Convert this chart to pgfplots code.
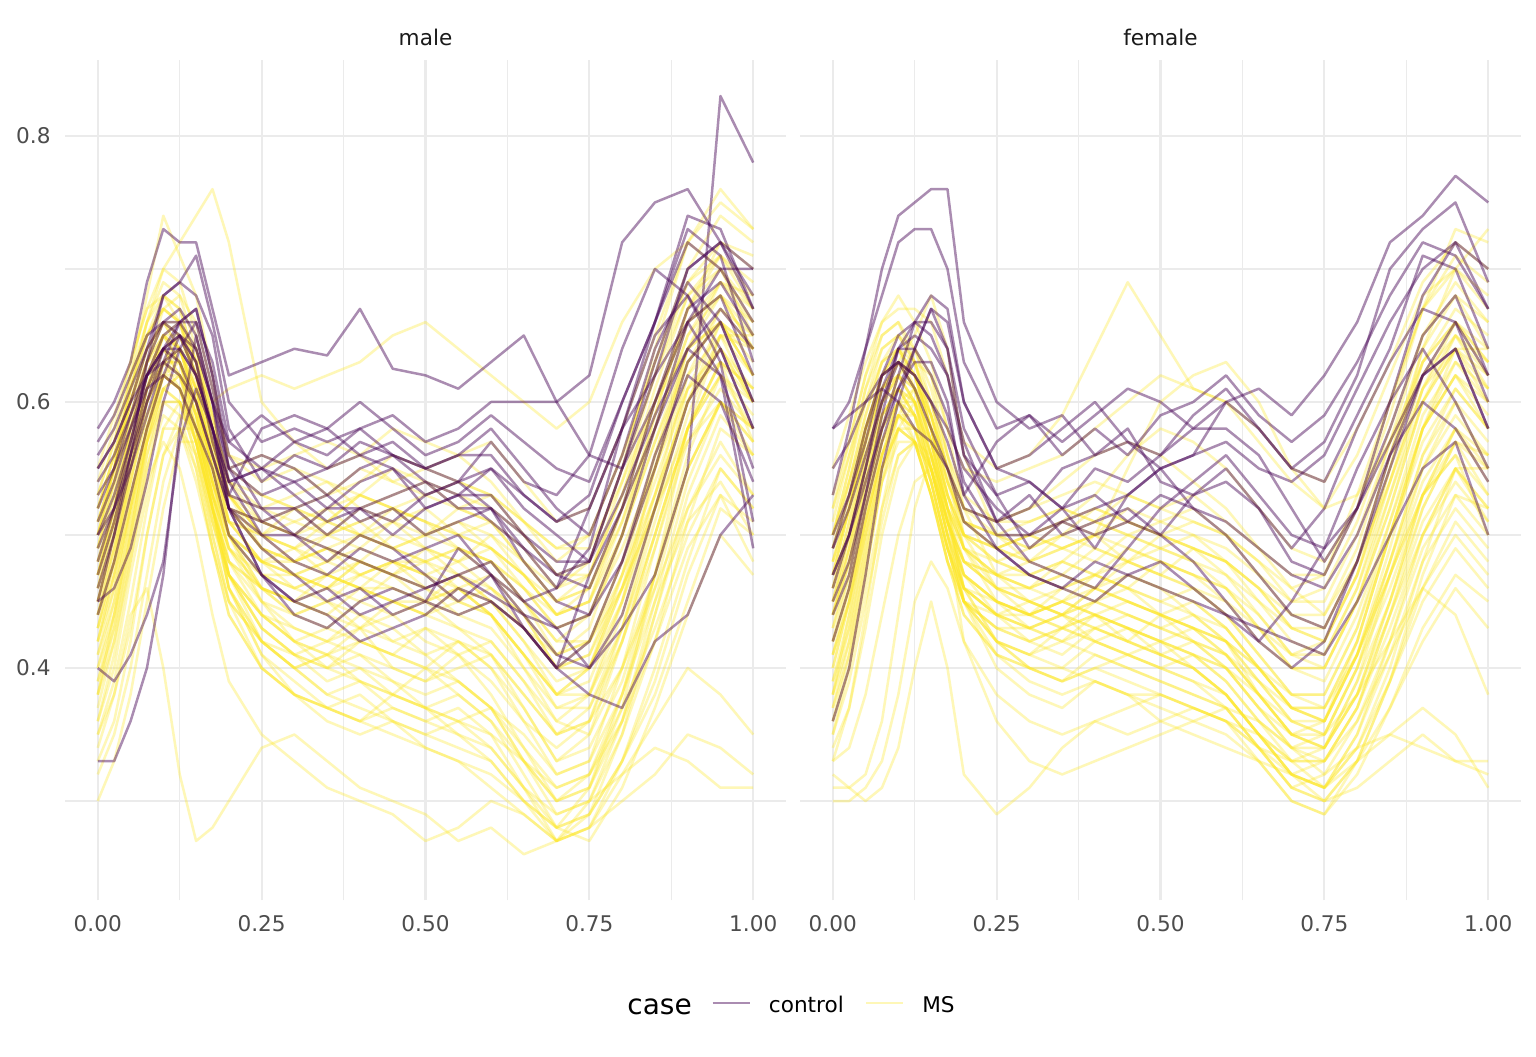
\documentclass[border=0pt]{standalone}
\usepackage{fontspec}
\setmainfont{DejaVu Sans}
\usepackage{pgfplots}
\usepackage{pgfplotstable}
\pgfplotsset{compat=1.18}
\definecolor{ctrl}{HTML}{440154}
\definecolor{msc}{HTML}{FDE725}
\definecolor{gridc}{HTML}{EBEBEB}
\definecolor{ticklab}{HTML}{4D4D4D}
\definecolor{strip}{HTML}{1A1A1A}

% ---------- male, control ----------
\pgfplotstableread[header=has colnames]{
id 0 0.025 0.05 0.075 0.1 0.125 0.15 0.175 0.2 0.25 0.3 0.35 0.4 0.45 0.5 0.55 0.6 0.65 0.7 0.75 0.8 0.85 0.9 0.95 1
c1 0.58 0.60 0.63 0.69 0.73 0.72 0.72 0.67 0.62 0.63 0.64 0.635 0.67 0.625 0.62 0.61 0.63 0.65 0.60 0.56 0.55 0.60 0.66 0.70 0.70
c2 0.45 0.50 0.56 0.63 0.68 0.69 0.71 0.66 0.60 0.57 0.58 0.57 0.58 0.56 0.55 0.56 0.56 0.53 0.51 0.53 0.60 0.66 0.74 0.73 0.67
c3 0.33 0.33 0.36 0.40 0.47 0.58 0.65 0.60 0.52 0.47 0.45 0.46 0.44 0.45 0.46 0.47 0.455 0.44 0.43 0.40 0.43 0.47 0.55 0.83 0.78
c4 0.55 0.57 0.60 0.64 0.68 0.69 0.68 0.65 0.58 0.54 0.56 0.55 0.56 0.55 0.53 0.54 0.55 0.52 0.50 0.48 0.55 0.62 0.70 0.72 0.70
c5 0.50 0.53 0.57 0.62 0.65 0.66 0.67 0.62 0.56 0.52 0.50 0.49 0.48 0.47 0.46 0.47 0.48 0.45 0.43 0.44 0.50 0.58 0.66 0.68 0.62
c6 0.47 0.51 0.56 0.61 0.64 0.65 0.63 0.58 0.52 0.49 0.47 0.45 0.46 0.44 0.45 0.49 0.47 0.44 0.41 0.40 0.44 0.52 0.60 0.64 0.58
c7 0.40 0.39 0.41 0.44 0.48 0.57 0.61 0.58 0.52 0.47 0.44 0.43 0.45 0.46 0.45 0.44 0.45 0.43 0.40 0.38 0.37 0.42 0.44 0.50 0.53
c8 0.56 0.58 0.61 0.64 0.66 0.67 0.65 0.60 0.57 0.59 0.57 0.58 0.60 0.58 0.56 0.57 0.59 0.57 0.55 0.54 0.60 0.66 0.72 0.70 0.66
c9 0.52 0.55 0.59 0.63 0.66 0.66 0.64 0.60 0.55 0.53 0.54 0.52 0.54 0.55 0.52 0.53 0.53 0.50 0.47 0.46 0.52 0.60 0.67 0.69 0.65
c10 0.48 0.52 0.57 0.62 0.64 0.63 0.60 0.56 0.52 0.51 0.52 0.53 0.51 0.52 0.50 0.51 0.52 0.48 0.45 0.44 0.48 0.55 0.63 0.66 0.60
c11 0.45 0.46 0.49 0.54 0.60 0.64 0.66 0.63 0.57 0.55 0.53 0.51 0.52 0.50 0.52 0.53 0.51 0.49 0.47 0.48 0.55 0.63 0.70 0.72 0.68
c12 0.53 0.55 0.58 0.61 0.62 0.61 0.58 0.55 0.50 0.47 0.45 0.44 0.42 0.43 0.44 0.46 0.45 0.43 0.40 0.47 0.52 0.58 0.64 0.62 0.55
c13 0.49 0.52 0.56 0.60 0.63 0.64 0.62 0.58 0.54 0.55 0.54 0.55 0.57 0.56 0.55 0.56 0.58 0.55 0.52 0.50 0.56 0.64 0.69 0.66 0.60
c14 0.44 0.48 0.53 0.58 0.62 0.65 0.64 0.60 0.54 0.50 0.48 0.47 0.49 0.48 0.49 0.50 0.47 0.43 0.40 0.42 0.48 0.56 0.62 0.60 0.54
c15 0.57 0.59 0.62 0.65 0.66 0.65 0.62 0.58 0.53 0.52 0.52 0.50 0.52 0.53 0.54 0.53 0.55 0.53 0.51 0.52 0.58 0.65 0.68 0.63 0.51
c16 0.51 0.54 0.58 0.62 0.64 0.65 0.63 0.57 0.53 0.58 0.59 0.58 0.56 0.57 0.55 0.54 0.57 0.54 0.53 0.56 0.64 0.70 0.68 0.64 0.58
c17 0.46 0.50 0.55 0.60 0.64 0.66 0.66 0.61 0.55 0.51 0.50 0.48 0.50 0.49 0.47 0.45 0.47 0.45 0.46 0.52 0.58 0.62 0.66 0.62 0.49
c18 0.55 0.57 0.60 0.62 0.63 0.62 0.60 0.56 0.52 0.50 0.50 0.52 0.52 0.51 0.53 0.54 0.52 0.50 0.48 0.48 0.53 0.59 0.64 0.67 0.64
c19 0.50 0.52 0.55 0.59 0.63 0.66 0.67 0.62 0.55 0.56 0.55 0.53 0.55 0.56 0.54 0.52 0.52 0.49 0.46 0.49 0.58 0.66 0.73 0.71 0.63
c20 0.54 0.56 0.59 0.62 0.64 0.64 0.62 0.58 0.54 0.55 0.57 0.56 0.58 0.59 0.57 0.58 0.60 0.60 0.60 0.62 0.72 0.75 0.76 0.72 0.67
}\maleCraw
\pgfplotstabletranspose[colnames from=id]{\maleC}{\maleCraw}

% ---------- male, MS ----------
\pgfplotstableread[header=has colnames]{
id 0 0.025 0.05 0.075 0.1 0.125 0.15 0.175 0.2 0.25 0.3 0.35 0.4 0.45 0.5 0.55 0.6 0.65 0.7 0.75 0.8 0.85 0.9 0.95 1
m1 0.45 0.50 0.56 0.61 0.64 0.62 0.57 0.52 0.48 0.46 0.45 0.47 0.46 0.45 0.44 0.46 0.44 0.40 0.36 0.38 0.45 0.55 0.62 0.65 0.60
m2 0.42 0.47 0.53 0.58 0.62 0.61 0.58 0.53 0.49 0.45 0.43 0.42 0.44 0.43 0.41 0.42 0.40 0.37 0.33 0.35 0.42 0.50 0.58 0.62 0.58
m3 0.50 0.55 0.60 0.64 0.66 0.64 0.60 0.55 0.51 0.50 0.52 0.50 0.51 0.52 0.50 0.51 0.49 0.47 0.45 0.47 0.53 0.60 0.66 0.68 0.64
m4 0.38 0.44 0.51 0.57 0.61 0.60 0.56 0.50 0.45 0.42 0.40 0.41 0.39 0.38 0.40 0.39 0.37 0.33 0.30 0.31 0.36 0.44 0.52 0.57 0.53
m5 0.47 0.52 0.58 0.62 0.65 0.64 0.61 0.56 0.52 0.49 0.48 0.50 0.49 0.51 0.49 0.48 0.50 0.47 0.44 0.45 0.52 0.60 0.67 0.70 0.66
m6 0.55 0.59 0.63 0.67 0.68 0.66 0.61 0.56 0.53 0.52 0.53 0.54 0.52 0.53 0.54 0.52 0.53 0.51 0.49 0.50 0.56 0.63 0.69 0.72 0.70
m7 0.33 0.36 0.42 0.50 0.56 0.58 0.56 0.50 0.45 0.40 0.38 0.37 0.36 0.38 0.37 0.35 0.33 0.30 0.28 0.29 0.33 0.38 0.45 0.52 0.50
m8 0.44 0.49 0.55 0.60 0.63 0.63 0.60 0.55 0.50 0.47 0.46 0.45 0.47 0.46 0.45 0.47 0.46 0.43 0.40 0.41 0.47 0.54 0.61 0.63 0.57
m9 0.48 0.53 0.59 0.63 0.66 0.65 0.62 0.57 0.52 0.50 0.49 0.48 0.50 0.49 0.48 0.49 0.47 0.45 0.42 0.44 0.50 0.57 0.64 0.66 0.62
m10 0.40 0.45 0.52 0.58 0.62 0.61 0.57 0.51 0.47 0.44 0.42 0.41 0.43 0.40 0.39 0.41 0.38 0.34 0.30 0.32 0.38 0.46 0.55 0.60 0.57
m11 0.52 0.56 0.61 0.66 0.70 0.72 0.74 0.76 0.72 0.60 0.57 0.55 0.56 0.54 0.55 0.56 0.54 0.51 0.48 0.50 0.56 0.63 0.70 0.74 0.72
m12 0.46 0.51 0.57 0.62 0.65 0.63 0.59 0.53 0.49 0.47 0.47 0.46 0.45 0.47 0.46 0.44 0.45 0.42 0.38 0.40 0.46 0.53 0.60 0.64 0.61
m13 0.36 0.41 0.48 0.55 0.60 0.60 0.57 0.51 0.46 0.42 0.40 0.38 0.39 0.37 0.36 0.37 0.35 0.31 0.27 0.28 0.33 0.40 0.48 0.55 0.52
m14 0.43 0.48 0.54 0.59 0.62 0.62 0.60 0.56 0.51 0.48 0.47 0.48 0.47 0.48 0.46 0.45 0.46 0.44 0.40 0.42 0.48 0.56 0.63 0.67 0.64
m15 0.50 0.54 0.59 0.63 0.65 0.64 0.61 0.56 0.52 0.51 0.50 0.51 0.53 0.52 0.51 0.50 0.51 0.49 0.46 0.47 0.54 0.62 0.68 0.70 0.67
m16 0.34 0.38 0.44 0.46 0.40 0.32 0.27 0.28 0.30 0.34 0.35 0.33 0.31 0.30 0.29 0.27 0.28 0.26 0.27 0.30 0.32 0.34 0.33 0.31 0.31
m17 0.47 0.51 0.56 0.61 0.64 0.63 0.59 0.54 0.50 0.46 0.44 0.43 0.45 0.44 0.42 0.41 0.42 0.39 0.35 0.36 0.42 0.50 0.58 0.63 0.60
m18 0.53 0.57 0.62 0.66 0.68 0.67 0.63 0.58 0.54 0.53 0.52 0.53 0.55 0.54 0.53 0.52 0.51 0.48 0.45 0.46 0.52 0.58 0.65 0.68 0.66
m19 0.41 0.46 0.52 0.58 0.62 0.61 0.58 0.52 0.47 0.43 0.41 0.40 0.42 0.41 0.40 0.38 0.36 0.32 0.28 0.27 0.31 0.37 0.44 0.50 0.47
m20 0.45 0.50 0.56 0.60 0.63 0.62 0.58 0.53 0.49 0.46 0.45 0.44 0.46 0.45 0.44 0.45 0.44 0.41 0.38 0.40 0.47 0.56 0.64 0.68 0.65
m21 0.49 0.53 0.58 0.62 0.64 0.63 0.59 0.54 0.50 0.48 0.47 0.48 0.49 0.48 0.47 0.48 0.49 0.46 0.43 0.44 0.49 0.55 0.61 0.64 0.60
m22 0.35 0.38 0.43 0.50 0.56 0.59 0.58 0.53 0.47 0.43 0.41 0.39 0.40 0.39 0.37 0.36 0.34 0.31 0.29 0.30 0.35 0.42 0.51 0.58 0.56
m23 0.51 0.55 0.60 0.64 0.66 0.64 0.60 0.55 0.52 0.51 0.50 0.52 0.50 0.51 0.52 0.50 0.49 0.47 0.44 0.45 0.50 0.57 0.63 0.66 0.62
m24 0.44 0.49 0.54 0.59 0.62 0.61 0.57 0.52 0.48 0.45 0.44 0.45 0.43 0.44 0.45 0.43 0.41 0.37 0.33 0.34 0.39 0.47 0.55 0.60 0.58
m25 0.48 0.52 0.57 0.61 0.63 0.62 0.59 0.54 0.50 0.48 0.49 0.47 0.48 0.50 0.49 0.47 0.48 0.45 0.41 0.42 0.46 0.52 0.58 0.62 0.59
m26 0.39 0.43 0.49 0.55 0.59 0.58 0.54 0.49 0.44 0.40 0.38 0.37 0.36 0.35 0.34 0.33 0.31 0.29 0.27 0.28 0.32 0.36 0.40 0.38 0.35
m27 0.54 0.58 0.63 0.67 0.70 0.69 0.65 0.60 0.56 0.55 0.56 0.57 0.56 0.58 0.57 0.56 0.57 0.54 0.51 0.52 0.58 0.65 0.72 0.75 0.73
m28 0.42 0.47 0.53 0.58 0.61 0.60 0.56 0.51 0.47 0.44 0.42 0.43 0.42 0.41 0.43 0.42 0.40 0.36 0.32 0.33 0.40 0.49 0.58 0.63 0.61
m29 0.46 0.51 0.57 0.61 0.63 0.61 0.57 0.52 0.48 0.46 0.45 0.46 0.48 0.47 0.46 0.47 0.45 0.43 0.41 0.42 0.48 0.55 0.63 0.66 0.63
m30 0.37 0.42 0.49 0.56 0.61 0.62 0.59 0.52 0.46 0.41 0.39 0.37 0.38 0.36 0.35 0.34 0.33 0.30 0.27 0.29 0.35 0.44 0.53 0.59 0.56
m31 0.50 0.55 0.61 0.65 0.67 0.66 0.62 0.57 0.53 0.50 0.49 0.50 0.51 0.49 0.50 0.51 0.50 0.48 0.46 0.48 0.55 0.62 0.69 0.71 0.67
m32 0.43 0.47 0.52 0.57 0.60 0.60 0.57 0.52 0.47 0.44 0.43 0.42 0.41 0.40 0.39 0.40 0.41 0.38 0.35 0.36 0.40 0.46 0.52 0.56 0.53
m33 0.47 0.52 0.58 0.63 0.66 0.66 0.63 0.58 0.53 0.50 0.48 0.49 0.47 0.48 0.47 0.46 0.47 0.44 0.40 0.40 0.45 0.52 0.60 0.66 0.64
m34 0.32 0.35 0.40 0.47 0.54 0.58 0.58 0.54 0.48 0.44 0.42 0.41 0.42 0.41 0.40 0.42 0.41 0.38 0.35 0.37 0.43 0.51 0.59 0.65 0.62
m35 0.52 0.56 0.60 0.63 0.64 0.62 0.58 0.53 0.50 0.48 0.48 0.47 0.46 0.48 0.48 0.46 0.45 0.43 0.40 0.41 0.46 0.52 0.57 0.60 0.57
m36 0.45 0.50 0.56 0.61 0.65 0.66 0.64 0.58 0.53 0.50 0.49 0.51 0.50 0.49 0.50 0.49 0.48 0.45 0.42 0.42 0.47 0.53 0.60 0.65 0.65
m37 0.40 0.44 0.50 0.56 0.60 0.59 0.55 0.49 0.45 0.42 0.41 0.42 0.43 0.42 0.41 0.39 0.37 0.34 0.31 0.32 0.37 0.43 0.50 0.55 0.52
m38 0.49 0.54 0.60 0.65 0.68 0.67 0.63 0.57 0.52 0.49 0.48 0.49 0.48 0.47 0.49 0.48 0.46 0.44 0.41 0.43 0.50 0.58 0.66 0.69 0.66
m39 0.36 0.40 0.47 0.53 0.58 0.58 0.55 0.49 0.44 0.40 0.38 0.37 0.36 0.37 0.36 0.35 0.34 0.31 0.28 0.31 0.38 0.47 0.56 0.62 0.60
m40 0.44 0.48 0.54 0.60 0.64 0.65 0.62 0.56 0.51 0.48 0.46 0.47 0.46 0.45 0.45 0.46 0.44 0.41 0.37 0.38 0.44 0.52 0.61 0.66 0.64
m41 0.38 0.42 0.48 0.54 0.57 0.55 0.50 0.44 0.39 0.35 0.33 0.31 0.30 0.29 0.27 0.28 0.30 0.29 0.27 0.28 0.30 0.32 0.35 0.34 0.32
m42 0.47 0.52 0.58 0.63 0.67 0.68 0.66 0.61 0.56 0.54 0.55 0.54 0.53 0.55 0.54 0.53 0.52 0.50 0.47 0.48 0.55 0.64 0.72 0.76 0.73
m43 0.50 0.55 0.62 0.68 0.74 0.71 0.68 0.62 0.55 0.53 0.52 0.51 0.53 0.52 0.51 0.50 0.49 0.47 0.44 0.46 0.52 0.60 0.66 0.68 0.64
m44 0.51 0.55 0.60 0.64 0.66 0.65 0.62 0.60 0.61 0.62 0.61 0.62 0.63 0.65 0.66 0.64 0.62 0.60 0.58 0.60 0.66 0.70 0.72 0.70 0.65
m45 0.41 0.45 0.51 0.57 0.61 0.62 0.60 0.55 0.50 0.46 0.44 0.45 0.44 0.42 0.43 0.41 0.39 0.36 0.34 0.36 0.43 0.52 0.60 0.64 0.60
m46 0.53 0.57 0.62 0.65 0.67 0.66 0.63 0.58 0.55 0.56 0.55 0.53 0.54 0.56 0.55 0.54 0.53 0.50 0.47 0.47 0.53 0.61 0.68 0.71 0.68
m47 0.46 0.50 0.55 0.60 0.63 0.64 0.61 0.55 0.50 0.45 0.42 0.40 0.41 0.39 0.38 0.39 0.37 0.33 0.29 0.30 0.36 0.45 0.54 0.60 0.58
m48 0.39 0.44 0.50 0.57 0.62 0.63 0.61 0.56 0.51 0.48 0.47 0.46 0.48 0.47 0.45 0.46 0.44 0.41 0.38 0.39 0.45 0.53 0.62 0.67 0.65
m49 0.49 0.54 0.59 0.63 0.65 0.63 0.58 0.52 0.47 0.43 0.41 0.40 0.39 0.38 0.37 0.36 0.37 0.35 0.32 0.33 0.38 0.45 0.51 0.54 0.50
m50 0.44 0.48 0.53 0.58 0.62 0.64 0.63 0.59 0.54 0.52 0.51 0.50 0.52 0.51 0.50 0.52 0.51 0.48 0.45 0.46 0.51 0.58 0.65 0.69 0.67
m51 0.35 0.39 0.45 0.52 0.58 0.60 0.58 0.52 0.46 0.41 0.38 0.36 0.35 0.36 0.34 0.33 0.32 0.30 0.28 0.29 0.33 0.39 0.47 0.53 0.51
m52 0.51 0.55 0.61 0.66 0.69 0.68 0.64 0.59 0.54 0.51 0.52 0.51 0.50 0.52 0.51 0.49 0.48 0.46 0.43 0.44 0.50 0.59 0.67 0.71 0.69
m53 0.43 0.48 0.55 0.61 0.65 0.64 0.60 0.54 0.49 0.46 0.45 0.44 0.43 0.45 0.44 0.43 0.42 0.39 0.36 0.35 0.40 0.47 0.55 0.60 0.56
m54 0.47 0.51 0.56 0.60 0.62 0.61 0.58 0.54 0.51 0.50 0.51 0.52 0.53 0.52 0.53 0.54 0.53 0.51 0.49 0.49 0.54 0.60 0.64 0.66 0.62
m55 0.38 0.43 0.50 0.57 0.63 0.64 0.60 0.53 0.47 0.42 0.40 0.41 0.40 0.38 0.37 0.38 0.36 0.33 0.30 0.31 0.37 0.47 0.58 0.65 0.64
m56 0.48 0.52 0.57 0.62 0.65 0.65 0.62 0.57 0.52 0.49 0.47 0.46 0.47 0.48 0.47 0.45 0.44 0.41 0.38 0.38 0.43 0.50 0.58 0.63 0.61
m57 0.42 0.46 0.52 0.58 0.63 0.65 0.64 0.59 0.53 0.49 0.48 0.49 0.48 0.47 0.48 0.47 0.45 0.42 0.39 0.40 0.46 0.55 0.64 0.69 0.68
m58 0.30 0.33 0.38 0.45 0.52 0.57 0.57 0.52 0.46 0.42 0.40 0.38 0.37 0.36 0.35 0.36 0.35 0.33 0.31 0.32 0.36 0.42 0.49 0.53 0.48
m59 0.52 0.56 0.61 0.65 0.67 0.66 0.62 0.57 0.53 0.51 0.50 0.49 0.50 0.49 0.48 0.49 0.48 0.46 0.44 0.45 0.51 0.59 0.67 0.72 0.71
m60 0.45 0.49 0.55 0.60 0.63 0.63 0.60 0.55 0.50 0.47 0.46 0.47 0.46 0.46 0.45 0.44 0.43 0.40 0.37 0.37 0.42 0.49 0.57 0.61 0.58
}\maleMraw
\pgfplotstabletranspose[colnames from=id]{\maleM}{\maleMraw}

% ---------- female, control ----------
\pgfplotstableread[header=has colnames]{
id 0 0.025 0.05 0.075 0.1 0.125 0.15 0.175 0.2 0.25 0.3 0.35 0.4 0.45 0.5 0.55 0.6 0.65 0.7 0.75 0.8 0.85 0.9 0.95 1
g1 0.58 0.60 0.64 0.68 0.72 0.73 0.73 0.70 0.63 0.58 0.59 0.57 0.59 0.61 0.60 0.58 0.60 0.61 0.59 0.62 0.66 0.72 0.74 0.77 0.75
g2 0.53 0.58 0.64 0.70 0.74 0.75 0.76 0.76 0.66 0.60 0.58 0.59 0.56 0.57 0.55 0.56 0.60 0.58 0.55 0.57 0.62 0.70 0.73 0.75 0.69
g3 0.47 0.50 0.55 0.60 0.63 0.62 0.60 0.58 0.55 0.52 0.50 0.51 0.52 0.53 0.55 0.56 0.57 0.55 0.54 0.56 0.61 0.66 0.70 0.72 0.67
g4 0.36 0.40 0.47 0.55 0.60 0.64 0.67 0.66 0.60 0.55 0.54 0.52 0.53 0.51 0.53 0.52 0.50 0.47 0.44 0.43 0.48 0.55 0.62 0.66 0.60
g5 0.49 0.52 0.56 0.60 0.64 0.65 0.64 0.62 0.57 0.51 0.48 0.47 0.46 0.49 0.52 0.54 0.56 0.53 0.50 0.49 0.52 0.57 0.62 0.64 0.58
g6 0.45 0.48 0.53 0.58 0.62 0.66 0.68 0.67 0.60 0.55 0.56 0.58 0.60 0.57 0.56 0.59 0.61 0.58 0.55 0.54 0.59 0.64 0.71 0.70 0.64
g7 0.58 0.59 0.60 0.61 0.60 0.58 0.57 0.55 0.51 0.49 0.47 0.46 0.45 0.47 0.48 0.46 0.44 0.43 0.42 0.41 0.45 0.50 0.55 0.57 0.50
g8 0.44 0.47 0.53 0.59 0.64 0.66 0.66 0.64 0.58 0.53 0.49 0.51 0.50 0.51 0.50 0.48 0.45 0.42 0.40 0.42 0.48 0.56 0.62 0.64 0.58
g9 0.50 0.53 0.57 0.62 0.65 0.66 0.65 0.62 0.56 0.53 0.54 0.52 0.55 0.54 0.56 0.58 0.58 0.56 0.52 0.48 0.52 0.58 0.65 0.68 0.62
g10 0.46 0.50 0.55 0.61 0.64 0.64 0.62 0.59 0.54 0.50 0.50 0.52 0.49 0.53 0.55 0.52 0.51 0.49 0.47 0.46 0.50 0.56 0.60 0.58 0.54
g11 0.42 0.46 0.52 0.57 0.61 0.64 0.67 0.64 0.56 0.51 0.52 0.55 0.56 0.58 0.54 0.53 0.55 0.52 0.49 0.52 0.58 0.63 0.67 0.66 0.62
g12 0.55 0.57 0.60 0.62 0.63 0.62 0.60 0.57 0.53 0.57 0.59 0.56 0.58 0.56 0.59 0.60 0.62 0.59 0.57 0.59 0.63 0.68 0.72 0.71 0.67
g13 0.47 0.50 0.54 0.58 0.61 0.63 0.63 0.60 0.53 0.49 0.47 0.46 0.48 0.47 0.46 0.45 0.44 0.42 0.45 0.49 0.55 0.60 0.64 0.60 0.55
g14 0.49 0.53 0.58 0.62 0.63 0.61 0.58 0.55 0.52 0.51 0.53 0.50 0.51 0.52 0.50 0.53 0.54 0.52 0.48 0.47 0.52 0.60 0.68 0.72 0.70
}\femCraw
\pgfplotstabletranspose[colnames from=id]{\femC}{\femCraw}

% ---------- female, MS ----------
\pgfplotstableread[header=has colnames]{
id 0 0.025 0.05 0.075 0.1 0.125 0.15 0.175 0.2 0.25 0.3 0.35 0.4 0.45 0.5 0.55 0.6 0.65 0.7 0.75 0.8 0.85 0.9 0.95 1
f1 0.42 0.47 0.53 0.58 0.60 0.57 0.53 0.49 0.46 0.45 0.44 0.46 0.45 0.47 0.46 0.44 0.42 0.39 0.36 0.35 0.40 0.48 0.56 0.60 0.55
f2 0.38 0.44 0.51 0.57 0.60 0.58 0.54 0.49 0.45 0.42 0.41 0.43 0.42 0.41 0.42 0.40 0.38 0.35 0.33 0.34 0.38 0.45 0.53 0.58 0.56
f3 0.46 0.51 0.57 0.62 0.64 0.61 0.56 0.51 0.48 0.47 0.48 0.47 0.49 0.48 0.47 0.49 0.47 0.44 0.41 0.40 0.45 0.53 0.61 0.65 0.62
f4 0.31 0.31 0.32 0.36 0.44 0.52 0.56 0.52 0.45 0.40 0.38 0.37 0.39 0.38 0.36 0.37 0.36 0.34 0.31 0.30 0.33 0.37 0.42 0.46 0.43
f5 0.50 0.55 0.61 0.65 0.66 0.63 0.58 0.53 0.50 0.49 0.50 0.51 0.50 0.52 0.51 0.50 0.49 0.47 0.45 0.46 0.51 0.58 0.65 0.68 0.64
f6 0.44 0.49 0.55 0.60 0.62 0.60 0.55 0.50 0.46 0.44 0.42 0.43 0.44 0.43 0.41 0.42 0.40 0.37 0.35 0.36 0.42 0.50 0.57 0.61 0.58
f7 0.35 0.40 0.47 0.54 0.58 0.58 0.55 0.50 0.45 0.42 0.40 0.39 0.41 0.40 0.39 0.38 0.37 0.34 0.31 0.32 0.36 0.42 0.49 0.53 0.50
f8 0.48 0.53 0.58 0.62 0.63 0.61 0.57 0.53 0.50 0.49 0.50 0.49 0.48 0.50 0.49 0.48 0.46 0.44 0.41 0.42 0.47 0.54 0.61 0.64 0.60
f9 0.40 0.45 0.52 0.58 0.62 0.63 0.62 0.58 0.52 0.47 0.45 0.44 0.46 0.45 0.44 0.43 0.41 0.38 0.35 0.34 0.38 0.44 0.50 0.55 0.51
f10 0.52 0.57 0.62 0.66 0.68 0.66 0.63 0.58 0.55 0.54 0.55 0.56 0.58 0.60 0.62 0.61 0.60 0.58 0.55 0.54 0.58 0.63 0.69 0.72 0.70
f11 0.30 0.30 0.31 0.33 0.38 0.45 0.48 0.46 0.42 0.38 0.36 0.35 0.36 0.35 0.36 0.35 0.34 0.33 0.32 0.30 0.31 0.33 0.35 0.33 0.32
f12 0.45 0.50 0.56 0.61 0.63 0.61 0.57 0.52 0.48 0.46 0.45 0.44 0.45 0.46 0.44 0.43 0.42 0.40 0.37 0.36 0.41 0.48 0.55 0.59 0.56
f13 0.43 0.48 0.54 0.59 0.61 0.59 0.54 0.49 0.46 0.44 0.43 0.44 0.43 0.42 0.44 0.43 0.41 0.38 0.35 0.35 0.40 0.46 0.53 0.57 0.53
f14 0.47 0.52 0.58 0.62 0.64 0.63 0.60 0.55 0.51 0.49 0.48 0.50 0.49 0.48 0.50 0.49 0.48 0.46 0.43 0.43 0.48 0.56 0.63 0.66 0.63
f15 0.36 0.41 0.48 0.55 0.59 0.59 0.57 0.52 0.47 0.44 0.43 0.42 0.44 0.42 0.41 0.40 0.38 0.35 0.32 0.31 0.35 0.41 0.48 0.52 0.49
f16 0.50 0.55 0.60 0.64 0.65 0.63 0.59 0.54 0.51 0.50 0.49 0.50 0.52 0.51 0.50 0.51 0.50 0.48 0.45 0.45 0.50 0.57 0.63 0.66 0.62
f17 0.41 0.46 0.52 0.57 0.59 0.57 0.53 0.48 0.45 0.43 0.43 0.44 0.42 0.43 0.42 0.41 0.39 0.36 0.34 0.35 0.40 0.47 0.54 0.58 0.54
f18 0.33 0.34 0.38 0.44 0.50 0.54 0.55 0.50 0.42 0.36 0.33 0.32 0.33 0.34 0.35 0.36 0.37 0.36 0.34 0.32 0.34 0.35 0.34 0.33 0.33
f19 0.47 0.52 0.57 0.61 0.62 0.60 0.55 0.51 0.48 0.47 0.46 0.48 0.50 0.55 0.60 0.62 0.63 0.60 0.55 0.52 0.53 0.57 0.62 0.65 0.61
f20 0.55 0.59 0.63 0.66 0.67 0.67 0.66 0.62 0.57 0.55 0.56 0.59 0.64 0.69 0.65 0.61 0.60 0.57 0.54 0.52 0.56 0.62 0.68 0.70 0.68
f21 0.44 0.49 0.55 0.60 0.62 0.61 0.57 0.52 0.49 0.47 0.46 0.47 0.46 0.48 0.47 0.46 0.44 0.41 0.38 0.38 0.43 0.50 0.58 0.62 0.59
f22 0.38 0.42 0.48 0.54 0.57 0.57 0.54 0.49 0.45 0.42 0.41 0.40 0.42 0.41 0.40 0.41 0.39 0.36 0.33 0.33 0.37 0.43 0.50 0.54 0.51
f23 0.49 0.54 0.59 0.63 0.64 0.62 0.58 0.53 0.50 0.48 0.47 0.48 0.47 0.49 0.48 0.47 0.45 0.42 0.40 0.40 0.45 0.52 0.60 0.64 0.61
f24 0.32 0.31 0.30 0.31 0.34 0.40 0.45 0.40 0.32 0.29 0.31 0.34 0.36 0.37 0.38 0.37 0.36 0.35 0.33 0.31 0.33 0.35 0.37 0.35 0.31
f25 0.46 0.51 0.56 0.60 0.61 0.59 0.55 0.51 0.48 0.46 0.46 0.45 0.47 0.46 0.45 0.44 0.43 0.40 0.37 0.37 0.42 0.50 0.58 0.63 0.60
f26 0.41 0.45 0.51 0.56 0.59 0.58 0.55 0.50 0.46 0.44 0.44 0.45 0.44 0.43 0.42 0.43 0.42 0.38 0.35 0.34 0.39 0.45 0.52 0.57 0.55
f27 0.53 0.57 0.62 0.65 0.66 0.64 0.60 0.56 0.53 0.51 0.51 0.52 0.51 0.53 0.52 0.51 0.50 0.48 0.46 0.47 0.53 0.60 0.67 0.70 0.67
f28 0.37 0.42 0.49 0.55 0.58 0.57 0.53 0.48 0.44 0.41 0.40 0.39 0.40 0.39 0.38 0.37 0.36 0.33 0.30 0.29 0.33 0.39 0.46 0.51 0.48
f29 0.45 0.50 0.55 0.59 0.61 0.60 0.56 0.52 0.49 0.47 0.47 0.48 0.47 0.46 0.48 0.47 0.46 0.43 0.41 0.41 0.46 0.54 0.62 0.66 0.64
f30 0.48 0.52 0.57 0.61 0.63 0.62 0.59 0.54 0.50 0.48 0.47 0.46 0.47 0.48 0.47 0.46 0.45 0.43 0.40 0.39 0.44 0.51 0.58 0.62 0.58
f31 0.34 0.37 0.43 0.50 0.55 0.57 0.56 0.51 0.46 0.42 0.40 0.39 0.40 0.41 0.40 0.39 0.38 0.35 0.32 0.31 0.34 0.39 0.45 0.49 0.46
f32 0.50 0.54 0.58 0.61 0.62 0.60 0.56 0.52 0.50 0.49 0.50 0.49 0.50 0.51 0.50 0.49 0.48 0.46 0.44 0.44 0.49 0.57 0.65 0.69 0.66
f33 0.43 0.47 0.53 0.58 0.60 0.59 0.55 0.51 0.47 0.45 0.44 0.45 0.44 0.45 0.44 0.42 0.40 0.37 0.34 0.34 0.39 0.47 0.55 0.60 0.57
f34 0.47 0.50 0.55 0.60 0.63 0.65 0.68 0.64 0.56 0.50 0.48 0.49 0.50 0.48 0.49 0.50 0.48 0.45 0.42 0.41 0.46 0.53 0.60 0.64 0.62
f35 0.39 0.44 0.50 0.56 0.59 0.58 0.54 0.49 0.45 0.43 0.42 0.41 0.43 0.42 0.41 0.40 0.38 0.35 0.32 0.33 0.37 0.44 0.51 0.55 0.52
f36 0.51 0.56 0.61 0.64 0.65 0.63 0.59 0.55 0.52 0.51 0.52 0.53 0.54 0.53 0.52 0.53 0.51 0.49 0.47 0.47 0.52 0.59 0.67 0.73 0.72
f37 0.44 0.48 0.54 0.59 0.61 0.59 0.55 0.50 0.47 0.45 0.44 0.45 0.44 0.43 0.42 0.41 0.40 0.38 0.36 0.35 0.38 0.42 0.46 0.44 0.38
f38 0.36 0.40 0.46 0.52 0.56 0.57 0.55 0.51 0.47 0.45 0.44 0.43 0.45 0.44 0.43 0.44 0.42 0.39 0.36 0.36 0.41 0.48 0.56 0.61 0.58
f39 0.49 0.53 0.58 0.62 0.63 0.61 0.58 0.54 0.51 0.50 0.49 0.51 0.53 0.56 0.58 0.57 0.55 0.52 0.49 0.48 0.52 0.60 0.67 0.71 0.69
f40 0.42 0.46 0.52 0.57 0.60 0.59 0.56 0.51 0.48 0.46 0.45 0.44 0.46 0.45 0.44 0.45 0.43 0.40 0.37 0.36 0.41 0.47 0.53 0.56 0.53
f41 0.40 0.45 0.51 0.56 0.59 0.58 0.54 0.49 0.45 0.43 0.42 0.43 0.42 0.41 0.40 0.39 0.37 0.34 0.32 0.31 0.35 0.42 0.50 0.55 0.52
f42 0.47 0.52 0.58 0.62 0.64 0.62 0.58 0.53 0.49 0.48 0.49 0.50 0.51 0.50 0.49 0.48 0.47 0.45 0.43 0.42 0.47 0.55 0.63 0.67 0.65
f43 0.33 0.37 0.44 0.52 0.58 0.60 0.58 0.52 0.46 0.42 0.41 0.42 0.41 0.40 0.39 0.38 0.37 0.34 0.31 0.30 0.33 0.39 0.47 0.53 0.52
f44 0.52 0.56 0.60 0.63 0.64 0.62 0.58 0.54 0.51 0.50 0.51 0.52 0.51 0.50 0.51 0.52 0.50 0.47 0.44 0.43 0.48 0.56 0.64 0.68 0.66
f45 0.44 0.48 0.53 0.58 0.62 0.64 0.62 0.56 0.50 0.46 0.44 0.43 0.44 0.43 0.42 0.41 0.40 0.37 0.34 0.33 0.37 0.44 0.52 0.57 0.56
f46 0.38 0.43 0.50 0.56 0.60 0.60 0.57 0.51 0.46 0.44 0.45 0.46 0.47 0.46 0.45 0.46 0.44 0.41 0.38 0.37 0.42 0.50 0.58 0.62 0.60
f47 0.49 0.53 0.58 0.62 0.63 0.62 0.58 0.53 0.49 0.46 0.45 0.44 0.43 0.44 0.43 0.42 0.41 0.38 0.35 0.34 0.38 0.45 0.53 0.58 0.55
f48 0.42 0.46 0.51 0.56 0.60 0.61 0.59 0.55 0.51 0.49 0.48 0.49 0.50 0.49 0.48 0.47 0.46 0.43 0.40 0.40 0.45 0.52 0.60 0.65 0.63
f49 0.35 0.39 0.45 0.51 0.56 0.57 0.55 0.50 0.45 0.41 0.39 0.38 0.39 0.38 0.37 0.36 0.35 0.33 0.30 0.29 0.32 0.37 0.43 0.47 0.45
f50 0.46 0.50 0.56 0.60 0.62 0.61 0.57 0.52 0.49 0.47 0.46 0.47 0.46 0.47 0.46 0.45 0.43 0.40 0.37 0.36 0.41 0.49 0.58 0.64 0.64
f51 0.50 0.54 0.59 0.63 0.65 0.64 0.61 0.56 0.52 0.50 0.50 0.51 0.52 0.51 0.50 0.49 0.48 0.46 0.43 0.42 0.47 0.55 0.64 0.70 0.73
f52 0.41 0.45 0.50 0.55 0.58 0.57 0.53 0.48 0.45 0.44 0.43 0.44 0.45 0.44 0.43 0.42 0.41 0.39 0.37 0.37 0.41 0.47 0.53 0.56 0.50
f53 0.37 0.41 0.47 0.54 0.59 0.61 0.60 0.55 0.49 0.45 0.43 0.42 0.43 0.42 0.41 0.40 0.38 0.35 0.32 0.31 0.34 0.40 0.48 0.55 0.55
f54 0.45 0.49 0.54 0.59 0.61 0.60 0.56 0.51 0.47 0.45 0.44 0.45 0.46 0.45 0.44 0.43 0.42 0.40 0.38 0.38 0.43 0.51 0.59 0.63 0.61
f55 0.48 0.52 0.57 0.61 0.63 0.62 0.59 0.55 0.52 0.51 0.52 0.54 0.56 0.57 0.56 0.54 0.52 0.49 0.46 0.44 0.48 0.54 0.61 0.66 0.63
f56 0.39 0.43 0.49 0.55 0.58 0.57 0.53 0.48 0.44 0.41 0.40 0.40 0.39 0.38 0.38 0.37 0.36 0.34 0.33 0.33 0.36 0.41 0.46 0.50 0.47
}\femMraw
\pgfplotstabletranspose[colnames from=id]{\femM}{\femMraw}

\pgfplotsset{
  panel/.style={
    scale only axis, width=360.5pt, height=420pt,
    xmin=-0.05, xmax=1.05, ymin=0.2256, ymax=0.8571,
    xtick={0,0.25,0.5,0.75,1},
    minor xtick={0.125,0.375,0.625,0.875},
    ytick={0.4,0.6,0.8},
    minor ytick={0.3,0.5,0.7},
    grid=both,
    major grid style={draw=gridc, line width=1.1pt},
    minor grid style={draw=gridc, line width=0.55pt},
    axis line style={draw=none},
    major tick length=0pt, minor tick length=0pt,
    tick style={draw=none},
    scaled ticks=false,
    /pgf/number format/assume math mode=true,
    xticklabel style={/pgf/number format/fixed, /pgf/number format/fixed zerofill, /pgf/number format/precision=2,
      text=ticklab, font=\fontsize{10.8}{13}\selectfont, inner sep=0pt, anchor=north, yshift=-7.5pt},
    yticklabel style={/pgf/number format/fixed, /pgf/number format/fixed zerofill, /pgf/number format/precision=1,
      text=ticklab, font=\fontsize{10.8}{13}\selectfont, inner sep=0pt, anchor=east, xshift=-7pt},
    title style={at={(0.5,1)}, anchor=base, yshift=1pt, inner sep=0pt, text=strip, font=\fontsize{10.8}{13}\selectfont},
  },
  ctrlline/.style={draw=ctrl, draw opacity=0.45, line width=1.25pt, line join=round},
  msline/.style={draw=msc, draw opacity=0.33, line width=1.25pt, line join=round},
}

\begin{document}
\begin{tikzpicture}
\path[use as bounding box, fill=white] (0,0) rectangle (768pt,528pt);

\begin{axis}[panel, at={(32.5pt,78pt)}, anchor=south west, title={male},
  legend columns=-1,
  legend style={draw=none, fill=none, at={(0.8960,-0.1255)}, anchor=west, inner sep=0pt,
    cells={anchor=base west}, nodes={inner sep=0pt},
    font=\fontsize{10.8}{13}\selectfont,
    /tikz/every odd column/.append style={column sep=9pt},
    /tikz/every even column/.append style={column sep=10.5pt}},
  legend image code/.code={\draw[#1] (0pt,4.5pt) -- (18.5pt,4.5pt);},
]
\addlegendimage{ctrlline}
\addlegendimage{msline}
\legend{control,MS}
\pgfplotsinvokeforeach{1,...,60}{\addplot[msline] table[x index=0, y index=#1]{\maleM};}
\pgfplotsinvokeforeach{1,...,20}{\addplot[ctrlline] table[x index=0, y index=#1]{\maleC};}
\end{axis}

\begin{axis}[panel, at={(400pt,78pt)}, anchor=south west, title={female}, yticklabels={}]
\pgfplotsinvokeforeach{1,...,56}{\addplot[msline] table[x index=0, y index=#1]{\femM};}
\pgfplotsinvokeforeach{1,...,14}{\addplot[ctrlline] table[x index=0, y index=#1]{\femC};}
\end{axis}

\node[anchor=base west, inner sep=0pt, font=\fontsize{14}{16}\selectfont] at (313.5pt,21pt) {case};
\end{tikzpicture}
\end{document}
